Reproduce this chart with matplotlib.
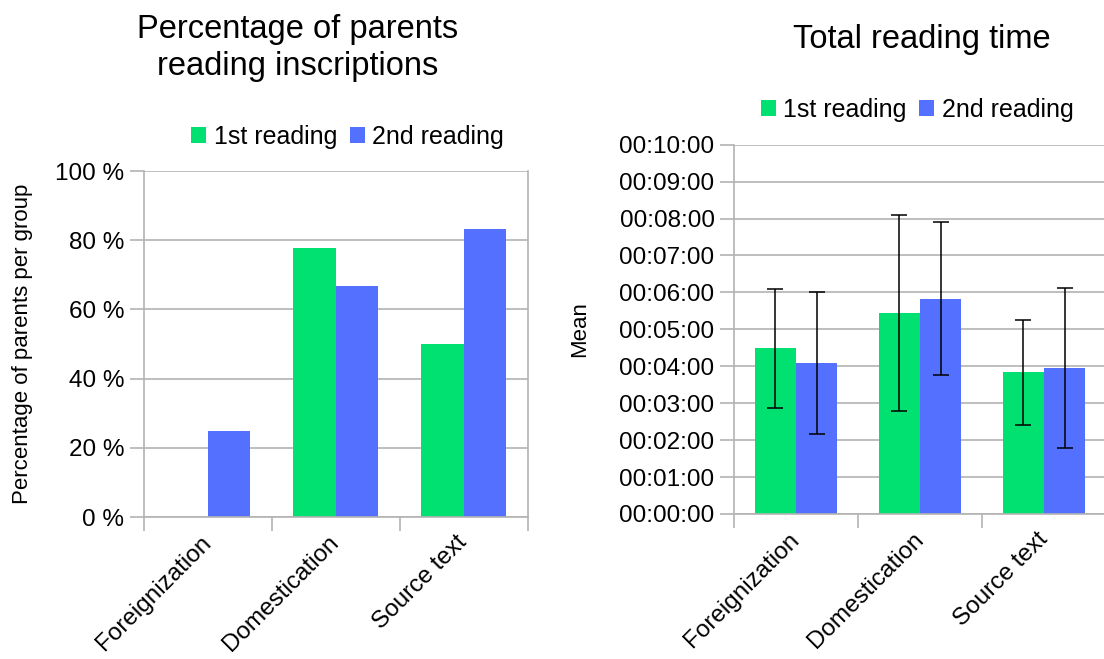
import matplotlib.pyplot as plt
from matplotlib.ticker import FuncFormatter
import numpy as np

plt.rcParams["font.family"] = ["Liberation Sans", "DejaVu Sans"]

groups = ["Foreignization", "Domestication", "Source text"]
series = ["1st reading", "2nd reading"]
colors = ["#00e172", "#5470ff"]

# left chart: share of parents reading the inscriptions (%)
pct_first = [0, 77.8, 50.0]
pct_second = [25.0, 66.7, 83.3]

# right chart: mean total reading time (seconds) and standard deviation
time_first = [269, 327, 230]
time_second = [245, 350, 237]
sd_first = [96, 159, 86]
sd_second = [115, 124, 130]

grey = "#b3b3b3"
W, H = 1104, 659


def style_axes(ax, right_spine):
    ax.set_axisbelow(True)
    ax.yaxis.grid(True, color=grey, lw=1.2)
    for side in ["left", "bottom", "right"]:
        ax.spines[side].set_color(grey)
        ax.spines[side].set_linewidth(1.2)
    ax.spines["top"].set_visible(False)
    ax.spines["right"].set_visible(right_spine)
    ax.set_xlim(-0.5, 2.5)
    ax.set_xticks([-0.5, 0.5, 1.5, 2.5], [])
    ax.set_xticks(np.arange(len(groups)), groups, minor=True,
                  rotation=45, ha="right", va="center", rotation_mode="anchor")
    ax.tick_params(axis="x", which="major", length=10, width=1.2, color=grey)
    ax.tick_params(axis="x", which="minor", length=0, pad=16, labelsize=17.5)
    ax.tick_params(axis="y", length=10, width=1.2, color=grey, labelsize=17.5, pad=4)


fig = plt.figure(figsize=(W / 100, H / 100), dpi=100)
x = np.arange(len(groups))
bw = 1 / 3

# ---- left: percentage of parents ----
ax1 = fig.add_axes([143.5 / W, (H - 517) / H, 384 / W, 346 / H])
ax1.bar(x - bw / 2, pct_first, bw, color=colors[0], label=series[0])
ax1.bar(x + bw / 2, pct_second, bw, color=colors[1], label=series[1])
ax1.set_ylim(0, 100)
ax1.set_yticks(range(0, 101, 20))
ax1.yaxis.set_major_formatter(FuncFormatter(lambda v, p: f"{v:.0f} %"))
style_axes(ax1, True)
ax1.set_ylabel("Percentage of parents per group", fontsize=16)
ax1.yaxis.set_label_coords((33 - 143.5) / 384, 0.5)

# ---- right: total reading time ----
ax2 = fig.add_axes([734 / W, (H - 514) / H, 372 / W, 369.3 / H])
err_kw = dict(ecolor="black", elinewidth=1.1, capsize=6, capthick=1.1)
ax2.bar(x - bw / 2, time_first, bw, color=colors[0], yerr=sd_first,
        error_kw=err_kw, label=series[0])
ax2.bar(x + bw / 2, time_second, bw, color=colors[1], yerr=sd_second,
        error_kw=err_kw, label=series[1])
ax2.set_ylim(0, 600)
ax2.set_yticks(range(0, 601, 60))
ax2.yaxis.set_major_formatter(
    FuncFormatter(lambda v, p: f"00:{int(v) // 60:02d}:{int(v) % 60:02d}"))
style_axes(ax2, False)
ax2.set_ylabel("Mean", fontsize=16)
ax2.yaxis.set_label_coords((590 - 734) / 372, 0.5)

# titles and legends
fig.text(298 / W, 1 - 14 / H, "Percentage of parents\nreading inscriptions",
         ha="center", va="top", fontsize=23.5, linespacing=1.25)
fig.text(922 / W, 1 - 24 / H, "Total reading time",
         ha="center", va="top", fontsize=23.5)

leg_kw = dict(loc="center", ncol=2, frameon=False, fontsize=18,
              handlelength=0.6, handleheight=0.6, handletextpad=0.3,
              columnspacing=0.5, borderpad=0, borderaxespad=0)
ax1.legend(bbox_to_anchor=(347.5 / W, 1 - 137 / H),
           bbox_transform=fig.transFigure, **leg_kw)
ax2.legend(bbox_to_anchor=(917 / W, 1 - 110 / H),
           bbox_transform=fig.transFigure, **leg_kw)

fig.savefig("out.png", dpi=100)
